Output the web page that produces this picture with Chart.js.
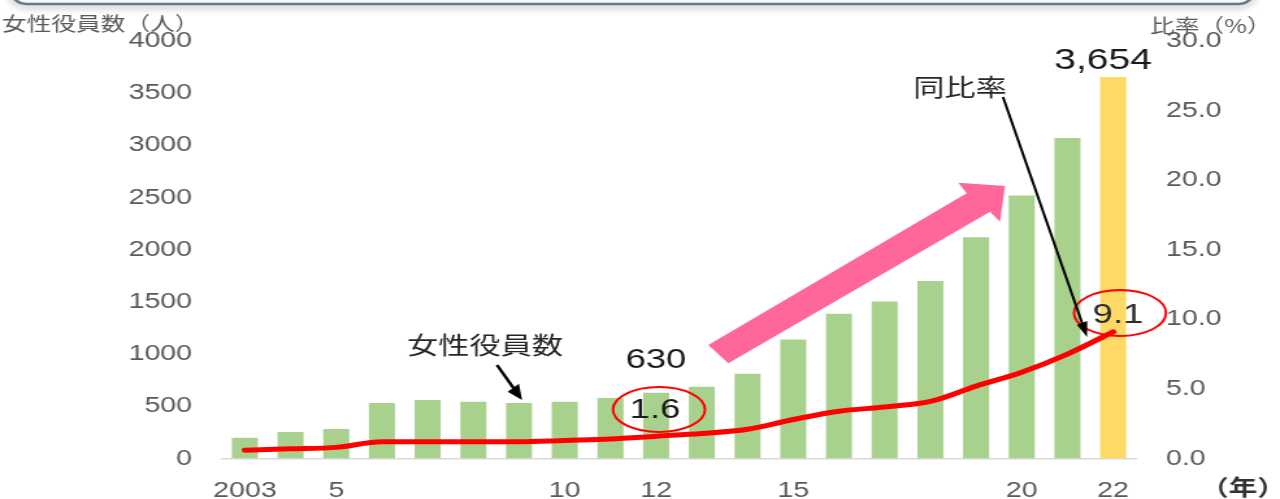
<!DOCTYPE html>
<html>
<head>
<meta charset="utf-8">
<script src="https://cdn.jsdelivr.net/npm/chart.js@4/dist/chart.umd.min.js"></script>
<style>
html,body{margin:0;padding:0;background:#ffffff;overflow:hidden;}
canvas{display:block;}
</style>
</head>
<body>
<canvas id="c" width="985" height="499" style="width:1280px;height:499px;"></canvas>
<script>
// ---------- data ----------
const years = ['2003','2004','2005','2006','2007','2008','2009','2010','2011','2012',
               '2013','2014','2015','2016','2017','2018','2019','2020','2021','2022'];
const xTickLabels = ['2003','','5','','','','','10','','12','','','15','','','','','20','','22'];
const femaleOfficers = [200,255,283,532,560,543,532,543,580,630,687,812,1140,1388,1505,1700,2120,2520,3070,3654];
const femaleRatio = [0.6,0.7,0.8,1.2,1.2,1.2,1.2,1.3,1.4,1.6,1.8,2.1,2.8,3.4,3.7,4.1,5.2,6.2,7.5,9.1];
const leftAxisMax = 4000, leftAxisStep = 500;
const rightAxisMax = 30, rightAxisStep = 5;
const leftAxisTitle = '女性役員数（人）';
const rightAxisTitle = '比率（%）';
const xAxisTitle = '（年）';
const barNote = '女性役員数';
const lineNote = '同比率';

// ---------- layout / style ----------
const S = 1280 / 985;            // horizontal stretch of the picture
const X = x => x / S;            // screen x -> canvas x
const GREEN = '#a9d18e', YELLOW = '#ffd966', RED = '#ff0000', PINK = '#ff6699';
const TICK = '#595959', INK = '#1a1a1a';
const NUMFONT = '"Liberation Sans", Arial, sans-serif';
const CJK = '"Noto Sans CJK JP", "Noto Sans", sans-serif';

function text(ctx, s, x, y, font, color, align) {
  ctx.font = font; ctx.fillStyle = color;
  ctx.textAlign = align || 'center'; ctx.textBaseline = 'middle';
  ctx.fillText(s, X(x), y);
}
function arrow(ctx, x1, y1, x2, y2, lw, hl, hw) {
  const dx = x2 - x1, dy = y2 - y1, L = Math.hypot(dx, dy);
  const ux = dx / L, uy = dy / L, nx = -uy, ny = ux;
  const bx = x2 - ux * hl, by = y2 - uy * hl;
  ctx.strokeStyle = '#000'; ctx.lineWidth = lw;
  ctx.beginPath(); ctx.moveTo(X(x1), y1); ctx.lineTo(X(bx + ux * 2), by + uy * 2); ctx.stroke();
  ctx.fillStyle = '#000';
  ctx.beginPath();
  ctx.moveTo(X(x2), y2);
  ctx.lineTo(X(bx + nx * hw / 2), by + ny * hw / 2);
  ctx.lineTo(X(bx - nx * hw / 2), by - ny * hw / 2);
  ctx.closePath(); ctx.fill();
}

const decor = {
  id: 'decor',
  afterDatasetsDraw(chart) {
    const ctx = chart.ctx;
    ctx.save();
    // top frame edge
    ctx.save();
    ctx.shadowColor = 'rgba(0,0,0,0.35)'; ctx.shadowBlur = 6; ctx.shadowOffsetY = 3;
    ctx.strokeStyle = '#6b7690'; ctx.lineWidth = 2.5;
    ctx.beginPath();
    ctx.moveTo(X(10), -20); ctx.lineTo(X(10), -12);
    ctx.ellipse(X(26), -12, X(16), 16, 0, Math.PI, Math.PI / 2, true);
    ctx.lineTo(X(1239), 4);
    ctx.ellipse(X(1239), -12, X(16), 16, 0, Math.PI / 2, 0, true);
    ctx.lineTo(X(1255), -20);
    ctx.stroke();
    ctx.restore();

    // pink trend arrow
    const pink = [[708.3,345],[966.7,193.3],[958.3,182.7],[1005,186],[1000,221.7],[990,211.7],[728.3,363.3]];
    ctx.fillStyle = PINK; ctx.beginPath();
    pink.forEach(([x, y], i) => i ? ctx.lineTo(X(x), y) : ctx.moveTo(X(x), y));
    ctx.closePath(); ctx.fill();

    // red ellipses
    ctx.strokeStyle = RED; ctx.lineWidth = 2;
    ctx.beginPath(); ctx.ellipse(X(659), 409.5, X(46), 22.5, 0, 0, Math.PI * 2); ctx.stroke();
    ctx.beginPath(); ctx.ellipse(X(1120), 313, X(46), 23, 0, 0, Math.PI * 2); ctx.stroke();

    // value labels
    text(ctx, femaleOfficers[9].toString(), 656, 360, '28px ' + NUMFONT, INK);
    text(ctx, femaleRatio[9].toFixed(1), 655, 410, '28px ' + NUMFONT, INK);
    text(ctx, femaleOfficers[19].toLocaleString('en-US'), 1103, 61, '30px ' + NUMFONT, INK);
    text(ctx, femaleRatio[19].toFixed(1), 1118, 315, '28px ' + NUMFONT, '#2a2a2a');

    // notes and arrows
    text(ctx, barNote, 485, 345, '24px ' + CJK, '#262626');
    arrow(ctx, 497, 365, 522, 400, 2.5, 15, 14);
    text(ctx, lineNote, 960, 87, '24px ' + CJK, '#262626');
    arrow(ctx, 1003, 97, 1087, 337, 2, 15, 11);

    // axis titles
    text(ctx, leftAxisTitle, 2, 24, '19px ' + CJK, TICK, 'left');
    text(ctx, rightAxisTitle, 1150, 26, '19px ' + CJK, TICK, 'left');
    text(ctx, xAxisTitle, 1243, 487, 'bold 22px ' + CJK, '#333333');
    ctx.restore();
  }
};

const plotLeft = X(222), plotRight = X(1136);

new Chart(document.getElementById('c'), {
  data: {
    labels: years,
    datasets: [
      {
        type: 'line', label: '比率', data: femaleRatio, yAxisID: 'y1', order: 1,
        borderColor: RED, borderWidth: 5, pointRadius: 0, cubicInterpolationMode: 'monotone',
        borderCapStyle: 'round', borderJoinStyle: 'round', fill: false
      },
      {
        type: 'bar', label: '女性役員数', data: femaleOfficers, yAxisID: 'y', order: 2,
        backgroundColor: c => c.dataIndex === years.length - 1 ? YELLOW : GREEN,
        categoryPercentage: 1, barPercentage: 0.57, borderWidth: 0
      }
    ]
  },
  options: {
    responsive: false, animation: false, devicePixelRatio: 1,
    layout: { padding: { top: 41, left: 0, right: 0, bottom: 0 } },
    plugins: { legend: { display: false }, tooltip: { enabled: false } },
    scales: {
      x: {
        type: 'category', offset: true,
        grid: { display: true, color: 'rgba(0,0,0,0)', drawTicks: false },
        border: { display: true, color: '#d9d9d9', width: 1.5 },
        ticks: {
          autoSkip: false, maxRotation: 0, padding: 19, color: TICK,
          font: { family: NUMFONT, size: 22 },
          callback: (v, i) => xTickLabels[i]
        },
        afterFit: s => { s.height = 40.5; }
      },
      y: {
        position: 'left', min: 0, max: leftAxisMax,
        grid: { display: false, drawTicks: false }, border: { display: false },
        ticks: { stepSize: leftAxisStep, padding: 23, color: TICK,
                 font: { family: NUMFONT, size: 22 }, callback: v => String(v) },
        afterFit: s => { s.width = plotLeft; }
      },
      y1: {
        position: 'right', min: 0, max: rightAxisMax,
        grid: { display: false, drawTicks: false }, border: { display: false },
        ticks: { stepSize: rightAxisStep, padding: 23, color: TICK,
                 font: { family: NUMFONT, size: 22 }, callback: v => Number(v).toFixed(1) },
        afterFit: s => { s.width = 985 - plotRight; }
      }
    }
  },
  plugins: [decor]
});
document.getElementById('c').style.width = '1280px';
</script>
</body>
</html>
